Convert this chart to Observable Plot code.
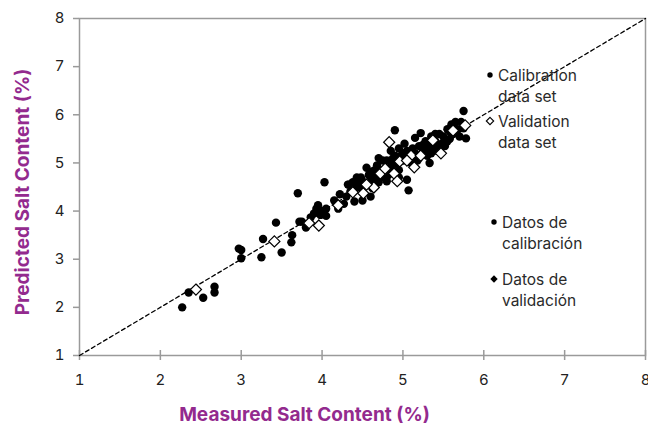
<!DOCTYPE html>
<html>
<head>
<meta charset="utf-8">
<script src="https://cdn.jsdelivr.net/npm/d3@7"></script>
<script src="https://cdn.jsdelivr.net/npm/@observablehq/plot@0.6"></script>
<style>
  html, body { margin: 0; padding: 0; background: #fff; }
  #wrap { position: relative; width: 648px; height: 426px; font-family: "Inter", "Open Sans", sans-serif; }
  .leg { position: absolute; font-size: 15.5px; color: #2a2a2a; line-height: 21px; }
  .leg svg { position: absolute; }
</style>
</head>
<body>
<div id="wrap"></div>
<script>
// Calibration data set (measured %, predicted %)
const calMeasured = [2.27,2.35,2.53,2.67,2.67,2.97,3.00,3.00,3.25,3.27,3.43,3.50,3.62,3.63,3.70,3.72,3.75,3.80,3.86,3.90,3.93,3.95,3.98,4.00,4.03,4.05,4.05,
  4.15,4.20,4.22,4.27,4.30,4.33,4.35,4.38,4.40,4.43,4.45,4.48,4.50,4.50,4.55,4.55,4.58,4.60,4.62,4.65,4.65,4.68,4.70,4.72,4.75,4.75,4.78,4.80,4.80,4.82,4.85,4.85,4.88,4.88,4.90,4.92,4.95,4.95,4.98,5.00,5.02,5.05,5.05,5.07,5.08,5.10,5.12,5.15,5.15,5.18,5.20,5.22,5.25,5.28,5.30,5.33,5.35,5.38,5.40,5.42,5.45,5.48,5.50,5.52,5.55,5.58,5.60,5.62,5.65,5.68,5.70,5.72,5.75,5.75,5.58,5.45,5.30,4.60,4.40,4.70,4.95,5.20,5.78,4.58,4.32,5.35,4.48,
  4.45,4.62,4.75,4.90,5.00,5.12,5.25,5.32,5.40,5.55,4.85,4.68];
const calPredicted = [2.00,2.31,2.20,2.43,2.31,3.22,3.19,3.02,3.04,3.42,3.76,3.14,3.35,3.50,4.37,3.78,3.78,3.66,3.87,3.95,4.05,4.12,3.92,4.00,4.60,3.90,4.05,
  4.22,4.05,4.35,4.15,4.30,4.55,4.40,4.60,4.48,4.70,4.55,4.48,4.22,4.62,4.90,4.55,4.75,4.60,4.48,4.85,4.68,4.95,4.60,4.78,5.05,4.70,4.88,5.05,4.62,4.75,5.25,4.92,5.10,4.80,5.68,5.00,5.30,4.85,5.15,5.05,5.40,4.65,5.25,4.43,5.12,5.00,5.30,5.52,5.20,5.05,5.35,5.62,5.25,5.45,5.15,5.00,5.55,5.35,5.45,5.25,5.60,5.40,5.55,5.35,5.70,5.50,5.80,5.60,5.85,5.70,5.55,5.85,6.08,5.72,5.65,5.30,5.40,4.30,4.20,5.10,4.70,5.10,5.51,4.75,4.55,5.20,4.70,
  4.65,4.82,4.85,5.15,5.20,5.08,5.38,5.28,5.60,5.45,5.05,4.72];

// Validation data set (measured %, predicted %)
const valMeasured = [2.44,3.41,3.84,3.96,4.20,4.38,4.51,4.64,4.72,4.78,4.83,4.89,4.93,4.96,5.10,5.14,5.22,5.37,5.47,5.62,5.77,5.05,4.55];
const valPredicted = [2.37,3.37,3.75,3.70,4.12,4.39,4.37,4.49,4.78,4.88,5.43,4.78,4.62,5.03,5.15,4.91,5.15,5.47,5.20,5.67,5.78,5.05,4.55];

// 1:1 reference line
const oneToOne = [1, 8];

// Ticks
const xTicks = [1, 2, 3, 4, 5, 6, 7, 8];
const yTicks = [1, 2, 3, 4, 5, 6, 7, 8];

const xLabel = "Measured Salt Content (%)";
const yLabel = "Predicted Salt Content (%)";

const cal = calMeasured.map((m, i) => ({m, p: calPredicted[i]}));
const val = valMeasured.map((m, i) => ({m, p: valPredicted[i]}));

const purple = "#932a8e";
const axisGray = "#9a9a9a";

const chart = Plot.plot({
  width: 648,
  height: 426,
  marginLeft: 79,
  marginRight: 3,
  marginTop: 18,
  marginBottom: 71,
  style: {fontFamily: "Inter, 'Open Sans', sans-serif", background: "#fff", overflow: "visible"},
  x: {domain: [1, 8]},
  y: {domain: [1, 8]},
  marks: [
    Plot.frame({stroke: axisGray, strokeWidth: 1.5}),
    Plot.axisX(xTicks, {tickSize: 5, tickPadding: 14, fontSize: 15, stroke: axisGray, strokeWidth: 1.5, fill: "#222", label: null}),
    Plot.axisX(xTicks, {tickSize: 5, dy: -5, tickFormat: () => "", stroke: axisGray, strokeWidth: 1.5, label: null}),
    Plot.axisY(yTicks, {tickSize: 6, tickPadding: 9, fontSize: 15, stroke: axisGray, strokeWidth: 1.5, fill: "#222", label: null}),
    Plot.line(oneToOne, {x: d => d, y: d => d, stroke: "#000", strokeWidth: 1.3, strokeDasharray: "4,3"}),
    Plot.dot(cal, {x: "m", y: "p", r: 4.2, fill: "#000", stroke: null}),
    Plot.dot(val, {x: "m", y: "p", r: 5, symbol: "diamond2", fill: "#fff", stroke: "#000", strokeWidth: 1.2}),
    Plot.text([xLabel], {text: d => d, frameAnchor: "bottom", textAnchor: "middle", lineAnchor: "middle", dx: -58, dy: 59, fontSize: 19, fontWeight: "bold", fill: purple}),
    Plot.text([yLabel], {text: d => d, frameAnchor: "left", textAnchor: "middle", lineAnchor: "middle", rotate: -90, dx: -57, dy: 5, fontSize: 19, fontWeight: "bold", fill: purple})
  ]
});

const wrap = document.getElementById("wrap");
wrap.appendChild(chart);

// Legend (inside the plot area, as in the original)
const legendItems = [
  {lines: ["Calibration", "data set"], left: 498, top: 65, marker: "circle", mx: 490, my: 75},
  {lines: ["Validation", "data set"], left: 498, top: 111, marker: "diamondOpen", mx: 490, my: 121},
  {lines: ["Datos de", "calibración"], left: 502, top: 212, marker: "circle", mx: 494, my: 222},
  {lines: ["Datos de", "validación"], left: 502, top: 269, marker: "diamondFilled", mx: 494, my: 279}
];
for (const it of legendItems) {
  const d = document.createElement("div");
  d.className = "leg";
  d.style.left = it.left + "px";
  d.style.top = it.top + "px";
  d.innerHTML = it.lines.join("<br>");
  wrap.appendChild(d);
  const ns = "http://www.w3.org/2000/svg";
  const s = document.createElementNS(ns, "svg");
  s.setAttribute("width", 12); s.setAttribute("height", 12);
  s.style.position = "absolute";
  s.style.left = (it.mx - 6) + "px";
  s.style.top = (it.my - 6) + "px";
  let shape;
  if (it.marker === "circle") {
    shape = document.createElementNS(ns, "circle");
    shape.setAttribute("cx", 6); shape.setAttribute("cy", 6); shape.setAttribute("r", 2.7);
    shape.setAttribute("fill", "#000");
  } else {
    shape = document.createElementNS(ns, "path");
    shape.setAttribute("d", "M6,2.3L9.7,6L6,9.7L2.3,6Z");
    if (it.marker === "diamondOpen") {
      shape.setAttribute("fill", "#fff"); shape.setAttribute("stroke", "#000"); shape.setAttribute("stroke-width", 1.1);
    } else {
      shape.setAttribute("fill", "#000");
    }
  }
  s.appendChild(shape);
  wrap.appendChild(s);
}
</script>
</body>
</html>
